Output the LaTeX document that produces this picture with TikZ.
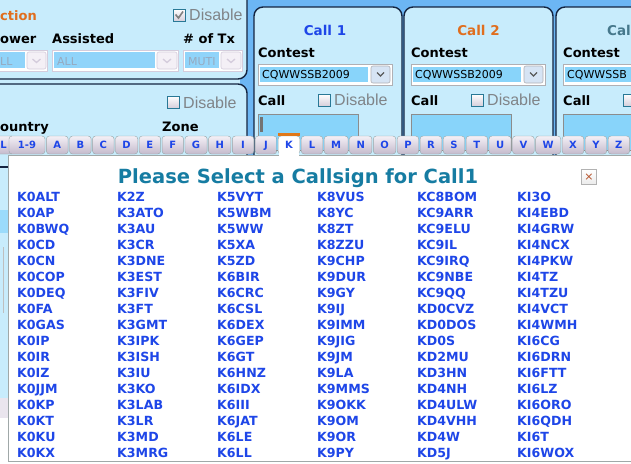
\documentclass[tikz,border=0pt]{standalone}
\usepackage{fontspec}
\setmainfont{DejaVu Sans}
\newfontfamily\arialfont{Liberation Sans}
\usepackage{tikz}
\usetikzlibrary{positioning}
\definecolor{pagebg}{RGB}{108,182,244}
\definecolor{panelbg}{RGB}{200,236,252}
\definecolor{panelline}{RGB}{20,36,64}
\definecolor{fieldblue}{RGB}{136,212,250}
\definecolor{linkblue}{RGB}{30,70,232}
\definecolor{titleteal}{RGB}{22,124,162}
\definecolor{calltwo}{RGB}{224,110,30}
\definecolor{callthree}{RGB}{70,120,140}
\definecolor{tabtop}{RGB}{244,240,246}
\definecolor{tabbot}{RGB}{196,186,204}
\definecolor{tabline}{RGB}{150,166,168}
\definecolor{selorange}{RGB}{224,120,24}
\definecolor{disgray}{RGB}{128,132,136}
\definecolor{boxteal}{RGB}{40,120,150}
\definecolor{popline}{RGB}{160,168,168}
\definecolor{dropline}{RGB}{176,176,180}
\definecolor{paledrop}{RGB}{212,204,220}
\definecolor{palefield}{RGB}{144,212,250}
\definecolor{paletext}{RGB}{150,170,192}
\definecolor{btnfill}{RGB}{214,228,244}
\definecolor{closered}{RGB}{180,80,40}
\tikzset{
    panel/.style={draw=panelline, line width=1.4pt, fill=panelbg, rounded corners=9pt},
    fieldlabel/.style={anchor=base west, inner sep=0pt, font=\bfseries\fontsize{13}{13}\selectfont},
    calltitle/.style={anchor=base, inner sep=0pt, font=\bfseries\fontsize{13.5}{13.5}\selectfont},
    distext/.style={anchor=base west, inner sep=0pt, text=disgray, font=\arialfont\fontsize{16}{16}\selectfont},
    droptext/.style={anchor=base west, inner sep=0pt, font=\fontsize{11}{11}\selectfont},
    chkbox/.style={draw=boxteal, line width=0.9pt, top color=white, bottom color=tabbot!70},
    checkmark/.style={draw=black!50, line width=1.6pt},
    dropframe/.style={draw=dropline, fill=white, line width=0.8pt},
    dropbtn/.style={draw=dropline, fill=btnfill, line width=0.6pt, rounded corners=2pt},
    chevron/.style={draw=black!65, line width=1.3pt},
    inputbox/.style={draw=black!45, line width=1pt, fill=fieldblue},
    lettertab/.style={draw=tabline, top color=tabtop, bottom color=tabbot, rounded corners=3pt, minimum width=21.5pt, minimum height=18pt, inner xsep=7pt, inner ysep=0pt, text height=7.3pt, text depth=0pt, text=linkblue, font=\bfseries\fontsize{10}{10}\selectfont},
    seltab/.style={lettertab, top color=white, bottom color=white},
    popup/.style={draw=popline, line width=1pt, fill=white},
    poptitle/.style={anchor=base, inner sep=0pt, text=titleteal, font=\bfseries\fontsize{19.5}{19.5}\selectfont},
    closebtn/.style={draw=black!30, top color=white, bottom color=black!8, minimum size=15pt, inner sep=0pt, text=closered, font=\fontsize{11}{11}\selectfont},
    callsign/.style={anchor=base west, inner sep=0pt, text=linkblue, font=\bfseries\fontsize{12.6}{12.6}\selectfont}
}
\begin{document}
\begin{tikzpicture}[x=1pt, y=-1pt]
    \useasboundingbox (0,0) rectangle (631,463);
    \clip (0,0) rectangle (631,463);
    % Page background
    \fill[pagebg] (0,0) rectangle (631,463);
    \fill[panelbg] (-20,70) rectangle (240,92);

    % Left panels
    \draw[panel] (-20,-20) rectangle (247,79);
    \draw[panel] (-20,84) rectangle (247,220);
    \node[fieldlabel, text=calltwo] (section) at (0,20) {ction};
    \draw[chkbox] (173,9) rectangle (185,21);
    \draw[checkmark] (175.5,14.5) -- (178.5,18) -- (183,11.5);
    \node[distext] (disabletop) at (189,20) {Disable};
    \node[fieldlabel] (power) at (0,43) {ower};
    \node[fieldlabel] (assisted) at (52,43) {Assisted};
    \node[fieldlabel] (numtx) at (183,43) {\# of Tx};
    \foreach \fl/\fr/\br/\t [count=\i] in {-5/25/47/LL, 52/155/178/ALL, 183/219/242/MUTI} {
        \draw[dropframe, draw=paledrop] (\fl,50) rectangle (\br,71);
        \fill[palefield] ({\fl+2},52) rectangle (\fr,68);
        \draw[dropbtn, draw=paledrop, fill=tabtop] ({\fr+2},52) rectangle ({\br-1},69);
        \draw[chevron, draw=paledrop] ({(\fr+\br)/2-3.5},59) -- ({(\fr+\br)/2+0.5},62.5) -- ({(\fr+\br)/2+4.5},59);
        \node[droptext, text=paletext] (pick\i) at ({\fl+5},65) {\t};
    }
    \draw[chkbox] (167,96) rectangle (179,108);
    \node[distext] (disableleft) at (183,108) {Disable};
    \node[fieldlabel] (country) at (0,131) {ountry};
    \node[fieldlabel] (zone) at (162,131) {Zone};

    % Call panels
    \draw[panel] (254,7) rectangle (402,220);
    \draw[panel] (404,7) rectangle (553,220);
    \draw[panel] (556,7) rectangle (700,220);
    \foreach \cx/\n/\tx/\tcol in {258/1/325/linkblue, 411/2/478.5/calltwo} {
        \node[calltitle, text=\tcol] (call\n) at (\tx,35) {Call \n};
        \node[fieldlabel] (contest\n) at (\cx,57) {Contest};
        \draw[dropframe] (\cx,64) rectangle ({\cx+134},85);
        \fill[fieldblue] ({\cx+2},67) rectangle ({\cx+110},82);
        \draw[dropbtn] ({\cx+113},66) rectangle ({\cx+132},83);
        \draw[chevron] ({\cx+119},72.5) -- ({\cx+122.5},76) -- ({\cx+126},72.5);
        \node[droptext] (contestpick\n) at ({\cx+4},78.5) {CQWWSSB2009};
        \node[fieldlabel] (calllabel\n) at (\cx,105) {Call};
        \draw[chkbox] ({\cx+60},94) rectangle ({\cx+72},106);
        \node[distext] (disable\n) at ({\cx+76},105) {Disable};
        \draw[inputbox] (\cx,114) rectangle ({\cx+100},150);
    }
    \fill[black!55] (260,117) rectangle (262.5,132);
    % third panel, cut by the right edge
    \node[calltitle, anchor=base west, text=callthree] (call3) at (607,35) {Cal};
    \node[fieldlabel] (contest3) at (563,57) {Contest};
    \draw[dropframe] (563,64) rectangle (700,85);
    \fill[fieldblue] (565,67) rectangle (700,82);
    \node[droptext] (contestpick3) at (567,78.5) {CQWWSSB};
    \node[fieldlabel] (calllabel3) at (563,105) {Call};
    \draw[chkbox] (623,94) rectangle (635,106);
    \draw[inputbox] (563,114) rectangle (663,150);

    % Strip left of the popup
    \fill[panelbg] (0,150) rectangle (8,398);
    \draw[panelline, line width=1.2pt] (0,167) -- (8,167);
    \fill[fieldblue!70!panelbg] (0,210) rectangle (8,233);
    \draw[black!25] (3,247) -- (3,313);
    \fill[tabtop!70!paledrop] (0,398) rectangle (8,418);
    \fill[white] (0,418) rectangle (631,463);

    % Popup
    \draw[popup] (8,155) rectangle (660,461);

    % Letter tabs
    \node[lettertab] (tabedge) at (3.5,145) {L};
    \node[lettertab, minimum width=36pt] (tab19) at (27,145) {1-9};
    \foreach \l [remember=\l as \prev (initially 19)] in {A,B,C,D,E,F,G,H,I,J}
        \node[lettertab, right=1pt of tab\prev] (tab\l) {\l};
    \node[seltab, right=1pt of tabJ] (tabK) {K};
    \fill[selorange] ([yshift=3pt]tabK.north west) rectangle (tabK.north east);
    \fill[white] ([xshift=0.7pt,yshift=1.5pt]tabK.south west) rectangle ([xshift=-0.7pt,yshift=-2pt]tabK.south east);
    \foreach \l [remember=\l as \prev (initially K)] in {L,M,N,O,P,R,S,T,U,V,W,X,Y,Z}
        \node[lettertab, right=1pt of tab\prev] (tab\l) {\l};

    % Popup title and close box
    \node[poptitle] (poptitle) at (298,183) {Please Select a Callsign for Call1};
    \node[closebtn] (close) at (589,177) {×};

    % Callsigns
    \foreach \clist [count=\c from 0] in {
        {K0ALT,K0AP,K0BWQ,K0CD,K0CN,K0COP,K0DEQ,K0FA,K0GAS,K0IP,K0IR,K0IZ,K0JJM,K0KP,K0KT,K0KU,K0KX},
        {K2Z,K3ATO,K3AU,K3CR,K3DNE,K3EST,K3FIV,K3FT,K3GMT,K3IPK,K3ISH,K3IU,K3KO,K3LAB,K3LR,K3MD,K3MRG},
        {K5VYT,K5WBM,K5WW,K5XA,K5ZD,K6BIR,K6CRC,K6CSL,K6DEX,K6GEP,K6GT,K6HNZ,K6IDX,K6III,K6JAT,K6LE,K6LL},
        {K8VUS,K8YC,K8ZT,K8ZZU,K9CHP,K9DUR,K9GY,K9IJ,K9IMM,K9JIG,K9JM,K9LA,K9MMS,K9OKK,K9OM,K9OR,K9PY},
        {KC8BOM,KC9ARR,KC9ELU,KC9IL,KC9IRQ,KC9NBE,KC9QQ,KD0CVZ,KD0DOS,KD0S,KD2MU,KD3HN,KD4NH,KD4ULW,KD4VHH,KD4W,KD5J},
        {KI3O,KI4EBD,KI4GRW,KI4NCX,KI4PKW,KI4TZ,KI4TZU,KI4VCT,KI4WMH,KI6CG,KI6DRN,KI6FTT,KI6LZ,KI6ORO,KI6QDH,KI6T,KI6WOX}} {
        \foreach \cs [count=\r from 0] in \clist
            \node[callsign] (cs\c-\r) at ({17+100*\c},{201+16*\r}) {\cs};
    }
\end{tikzpicture}
\end{document}
